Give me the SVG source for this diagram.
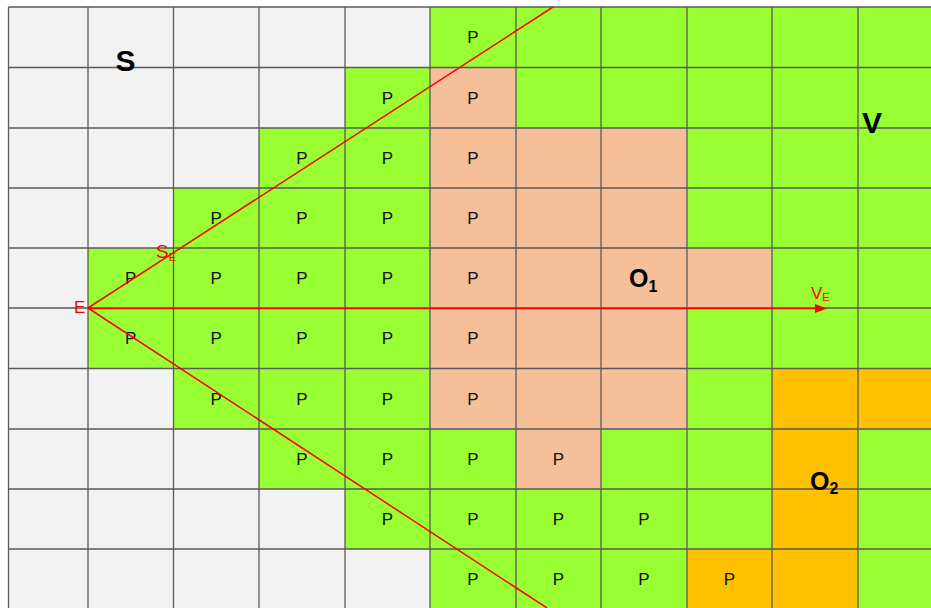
<svg xmlns="http://www.w3.org/2000/svg" width="931" height="608" viewBox="0 0 931 608">
<style>
.g{stroke:#5a5a5a;stroke-width:1.3;fill:none}
.p{font-family:"Liberation Sans",Arial,sans-serif;font-size:17px;fill:#111;text-anchor:middle}
.big{font-family:"Liberation Sans",Arial,sans-serif;font-weight:bold;fill:#000}
.red{font-family:"Liberation Sans",Arial,sans-serif;fill:#ff0000}
.ray{stroke:#ff0000;stroke-width:1.5;fill:none}
</style>
<defs>
<marker id="ah" markerWidth="12" markerHeight="9" refX="0" refY="4.5" orient="auto" markerUnits="userSpaceOnUse">
<path d="M0,0 L12,4.5 L0,9 Z" fill="#ff0000"/>
</marker>
</defs>
<rect width="931" height="608" fill="#ffffff"/>
<g id="region-S">
<rect x="8.5" y="7" width="922.5" height="601" fill="#f2f2f2"/>
</g>
<g id="region-V">
<polygon fill="#99ff33" points="430,7 931,7 931,608 430,608 430,549 345,549 345,489 259,489 259,429 173.5,429 173.5,368.5 88,368.5 88,248 173.5,248 173.5,188 259,188 259,128 345,128 345,67.5 430,67.5"/>
</g>
<g id="region-O1">
<polygon fill="#f4bf99" points="430,67.5 516,67.5 516,128 687,128 687,248 772,248 772,308 687,308 687,429 601,429 601,489 516,489 516,429 430,429"/>
</g>
<g id="region-O2">
<polygon fill="#ffc000" points="772,368.5 931,368.5 931,429 858,429 858,608 687,608 687,549 772,549"/>
</g>
<g id="grid">
<path class="g" d="M8.5,7V608M88,7V608M173.5,7V608M259,7V608M345,7V608M430,7V608M516,7V608M601,7V608M687,7V608M772,7V608M858,7V608"/>
<path class="g" d="M8.5,7H931M8.5,67.5H931M8.5,128H931M8.5,188H931M8.5,248H931M8.5,308H931M8.5,368.5H931M8.5,429H931M8.5,489H931M8.5,549H931"/>
</g>
<g id="p-labels">
<text class="p" x="473" y="43">P</text>
<text class="p" x="387.5" y="104">P</text><text class="p" x="473" y="104">P</text>
<text class="p" x="302" y="164">P</text><text class="p" x="387.5" y="164">P</text><text class="p" x="473" y="164">P</text>
<text class="p" x="216.25" y="224">P</text><text class="p" x="302" y="224">P</text><text class="p" x="387.5" y="224">P</text><text class="p" x="473" y="224">P</text>
<text class="p" x="130.75" y="284">P</text><text class="p" x="216.25" y="284">P</text><text class="p" x="302" y="284">P</text><text class="p" x="387.5" y="284">P</text><text class="p" x="473" y="284">P</text>
<text class="p" x="130.75" y="344">P</text><text class="p" x="216.25" y="344">P</text><text class="p" x="302" y="344">P</text><text class="p" x="387.5" y="344">P</text><text class="p" x="473" y="344">P</text>
<text class="p" x="216.25" y="405">P</text><text class="p" x="302" y="405">P</text><text class="p" x="387.5" y="405">P</text><text class="p" x="473" y="405">P</text>
<text class="p" x="302" y="465">P</text><text class="p" x="387.5" y="465">P</text><text class="p" x="473" y="465">P</text><text class="p" x="558.5" y="465">P</text>
<text class="p" x="387.5" y="525">P</text><text class="p" x="473" y="525">P</text><text class="p" x="558.5" y="525">P</text><text class="p" x="644" y="525">P</text>
<text class="p" x="473" y="585">P</text><text class="p" x="558.5" y="585">P</text><text class="p" x="644" y="585">P</text><text class="p" x="729.5" y="585">P</text>
</g>
<g id="region-labels">
<text class="big" x="125.5" y="70.5" font-size="30" text-anchor="middle">S</text>
<text class="big" x="872" y="133" font-size="30" text-anchor="middle">V</text>
<text class="big" x="629" y="287" font-size="25">O<tspan font-size="16" dy="5">1</tspan></text>
<text class="big" x="810" y="490" font-size="25">O<tspan font-size="16" dy="4">2</tspan></text>
</g>
<g id="connectors">
<line class="ray" x1="88" y1="308" x2="553" y2="7"/>
<line class="ray" x1="88" y1="308" x2="547" y2="608"/>
<line class="ray" x1="88" y1="308.5" x2="815" y2="308.5" marker-end="url(#ah)"/>
</g>
<g id="ray-labels">
<text class="red" x="74" y="313" font-size="17">E</text>
<text class="red" x="156" y="258" font-size="19">S<tspan font-size="11" dy="3">E</tspan></text>
<text class="red" x="811" y="299" font-size="17">V<tspan font-size="11" dy="2">E</tspan></text>
</g>
</svg>
